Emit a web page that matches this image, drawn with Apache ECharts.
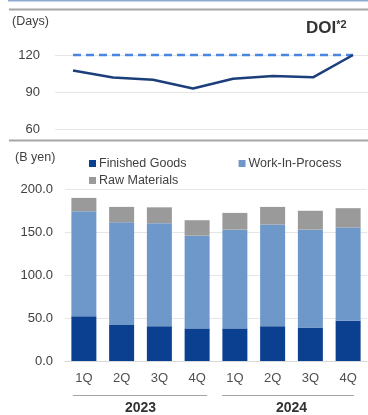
<!DOCTYPE html>
<html><head><meta charset="utf-8">
<script src="https://cdn.jsdelivr.net/npm/echarts@6/dist/echarts.min.js"></script>
<style>html,body{margin:0;padding:0;background:#fff}#c{width:368px;height:415px}</style>
</head><body><div id="c"></div>
<script>
const quarters = ['1Q','2Q','3Q','4Q','1Q','2Q','3Q','4Q'];
const years = ['2023','2024'];
const doi = [107.4, 101.8, 100, 93, 100.8, 103, 102, 120];
const doiTarget = [120, 120, 120, 120, 120, 120, 120, 120];
const finishedGoods = [52, 42, 40.5, 38, 38, 40.5, 39, 47];
const workInProcess = [122.5, 119.5, 120, 108, 115, 118.5, 114, 108.5];
const rawMaterials = [15.5, 18, 18.5, 18, 19.5, 20.5, 22, 22.5];
const topTicks = [60, 90, 120];
const barTicks = [0, 50, 100, 150, 200];

const font = '"Liberation Sans", Arial, sans-serif';
const txt = '#404040';
const legendText = {color:txt, fontSize:12.5, fontFamily:font, padding:[0,0,0,-2]};
const chart = echarts.init(document.getElementById('c'), null, {renderer:'canvas'});
chart.setOption({
  animation:false,
  textStyle:{fontFamily:font},
  grid:[
    {left:55, right:0, top:55, bottom:415-129.3},
    {left:65, right:1, top:189.3, bottom:415-361.7}
  ],
  xAxis:[
    {gridIndex:0, type:'value', min:-0.45, max:7.375, show:false},
    {gridIndex:1, type:'category', data:quarters, position:'bottom',
     axisLine:{lineStyle:{color:'#d9d9d9'}}, axisTick:{show:false},
     axisLabel:{color:'#505050', fontSize:13, margin:11, fontFamily:font}},
    {gridIndex:1, type:'category', data:years, position:'bottom', offset:38,
     axisLine:{show:false}, axisTick:{show:false},
     axisLabel:{color:'#333', fontSize:14, fontWeight:'bold', margin:2, fontFamily:font}}
  ],
  yAxis:[
    {gridIndex:0, type:'value', min:topTicks[0], max:topTicks[topTicks.length-1], interval:30,
     axisLine:{show:false}, axisTick:{show:false},
     axisLabel:{color:txt, fontSize:13, margin:15, fontFamily:font},
     splitLine:{lineStyle:{color:'#e6e6e6'}}},
    {gridIndex:1, type:'value', min:barTicks[0], max:barTicks[barTicks.length-1], interval:50,
     axisLine:{show:false}, axisTick:{show:false},
     axisLabel:{color:txt, fontSize:13, margin:12, fontFamily:font, formatter:v=>v.toFixed(1)},
     splitLine:{lineStyle:{color:'#e6e6e6'}}}
  ],
  legend:[
    {left:84, top:152, itemGap:52, itemWidth:7, itemHeight:7, icon:'rect',
     textStyle:legendText, data:['Finished Goods','Work-In-Process']},
    {left:84, top:169, itemWidth:7, itemHeight:7, icon:'rect',
     textStyle:legendText, data:['Raw Materials']}
  ],
  series:[
    {type:'line', xAxisIndex:0, yAxisIndex:0, data:doiTarget.map((v,i)=>[i,v]), showSymbol:false, clip:false,
     lineStyle:{color:'#4a86e0', width:2.5, type:[8,5]}, silent:true},
    {type:'line', xAxisIndex:0, yAxisIndex:0, data:doi.map((v,i)=>[i,v]), showSymbol:false, clip:false,
     lineStyle:{color:'#1c3f7c', width:2.5}, silent:true},
    {name:'Finished Goods', type:'bar', xAxisIndex:1, yAxisIndex:1, stack:'inv', data:finishedGoods, barWidth:25, itemStyle:{color:'#0b3f8f'}},
    {name:'Work-In-Process', type:'bar', xAxisIndex:1, yAxisIndex:1, stack:'inv', data:workInProcess, barWidth:25, itemStyle:{color:'#6f98ca'}},
    {name:'Raw Materials', type:'bar', xAxisIndex:1, yAxisIndex:1, stack:'inv', data:rawMaterials, barWidth:25, itemStyle:{color:'#9a9a9a'}}
  ],
  graphic:[
    {type:'line', shape:{x1:8,y1:0.5,x2:368,y2:0.5}, style:{stroke:'#8faad2', lineWidth:2}},
    {type:'line', shape:{x1:9,y1:9.5,x2:368,y2:9.5}, style:{stroke:'#a6a6a6', lineWidth:2}},
    {type:'line', shape:{x1:9,y1:140.5,x2:368,y2:140.5}, style:{stroke:'#a6a6a6', lineWidth:2}},
    {type:'text', left:12, top:15, style:{text:'(Days)', fill:txt, font:'12.5px '+font}},
    {type:'text', left:15, top:151, style:{text:'(B yen)', fill:txt, font:'12.5px '+font}},
    {type:'text', left:306, top:19, style:{
      text:'{a|DOI}{b|*2}', rich:{
        a:{fontSize:17, fontWeight:'bold', fill:'#333', fontFamily:font, verticalAlign:'bottom'},
        b:{fontSize:11, fontWeight:'bold', fill:'#333', fontFamily:font, verticalAlign:'top', padding:[0,0,7,0]}
      }}},
    {type:'line', shape:{x1:73,y1:395.5,x2:207,y2:395.5}, style:{stroke:'#a6a6a6', lineWidth:1}},
    {type:'line', shape:{x1:222,y1:395.5,x2:354,y2:395.5}, style:{stroke:'#a6a6a6', lineWidth:1}}
  ]
});
</script></body></html>
